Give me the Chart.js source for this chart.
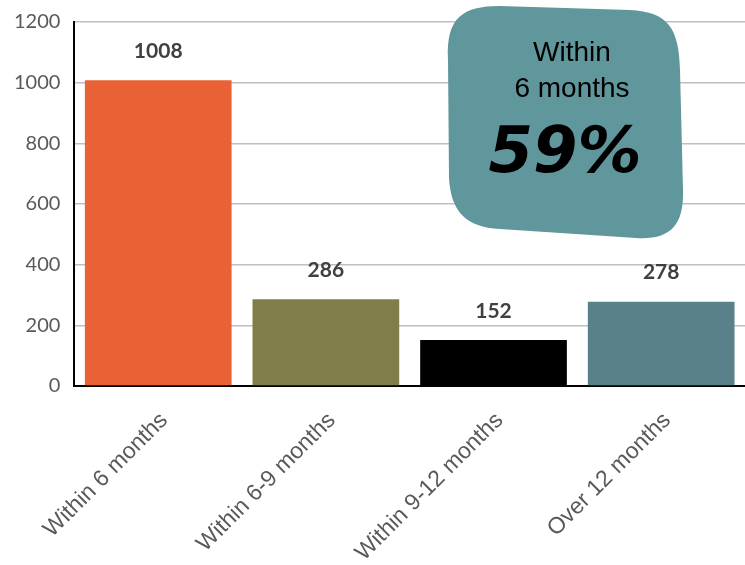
<!DOCTYPE html>
<html>
<head>
<meta charset="utf-8">
<script src="https://cdn.jsdelivr.net/npm/chart.js@4.4.0/dist/chart.umd.min.js"></script>
<style>
  html, body { margin: 0; padding: 0; background: #fff; }
  #wrap { width: 745px; height: 565px; }
</style>
</head>
<body>
<div id="wrap"><canvas id="mycanvas"></canvas></div>
<script>
var categories = ['Within 6 months', 'Within 6-9 months', 'Within 9-12 months', 'Over 12 months'];
var counts = [1008, 286, 152, 278];
var barColors = ['#E86236', '#7F7E4B', '#000000', '#5A8089'];
var yTicks = [0, 200, 400, 600, 800, 1000, 1200];

// value labels above each bar
var valueLabels = {
  id: 'valueLabels',
  afterDatasetsDraw: function(chart) {
    var ctx = chart.ctx;
    var meta = chart.getDatasetMeta(0);
    ctx.save();
    ctx.font = 'bold 21px Lato, "Open Sans", sans-serif';
    ctx.fillStyle = '#404040';
    ctx.textAlign = 'center';
    ctx.textBaseline = 'middle';
    meta.data.forEach(function(bar, i) {
      ctx.fillText(counts[i], bar.x, bar.y - 29);
    });
    ctx.restore();
  }
};

// teal callout blob
var callout = {
  id: 'callout',
  afterDraw: function(chart) {
    var ctx = chart.ctx;
    ctx.save();
    ctx.beginPath();
    ctx.moveTo(448, 60);
    ctx.bezierCurveTo(446, 18, 462, 6, 500, 6);
    ctx.lineTo(630, 10);
    ctx.bezierCurveTo(668, 12, 679, 28, 680, 70);
    ctx.lineTo(683, 190);
    ctx.bezierCurveTo(684, 226, 670, 240, 636, 238);
    ctx.lineTo(500, 229);
    ctx.bezierCurveTo(466, 227, 451, 212, 449, 178);
    ctx.closePath();
    ctx.fillStyle = '#60979D';
    ctx.fill();
    ctx.fillStyle = '#000';
    ctx.textAlign = 'center';
    ctx.textBaseline = 'middle';
    ctx.font = '28px "Liberation Sans", Arial, sans-serif';
    ctx.fillText('Within', 572, 53);
    ctx.fillText('6 months', 572, 89);
    ctx.font = 'italic bold 64px "DejaVu Sans", sans-serif';
    ctx.fillText('59%', 565, 155);
    ctx.restore();
  }
};

new Chart(document.getElementById('mycanvas'), {
  type: 'bar',
  data: {
    labels: categories,
    datasets: [{
      data: counts,
      backgroundColor: barColors,
      barPercentage: 0.875,
      categoryPercentage: 1.0
    }]
  },
  options: {
    responsive: true,
    maintainAspectRatio: false,
    animation: false,
    layout: { padding: { top: 1, right: 0, left: 0, bottom: 0 } },
    plugins: { legend: { display: false }, tooltip: { enabled: false } },
    scales: {
      x: {
        grid: { display: false, drawTicks: false },
        border: { color: '#000', width: 2 },
        afterFit: function(axis) { axis.height = 179; },
        ticks: {
          maxRotation: 45, minRotation: 45,
          labelOffset: 6,
          padding: 21,
          color: '#595959',
          font: { family: '"Liberation Sans", Arial, sans-serif', size: 23 }
        }
      },
      y: {
        min: 0, max: 1200,
        afterBuildTicks: function(axis) {
          axis.ticks = yTicks.map(function(v) { return { value: v }; });
        },
        grid: { color: '#BFBFBF', lineWidth: 1.5, drawTicks: false },
        border: { color: '#000', width: 2 },
        ticks: {
          padding: 14,
          color: '#595959',
          font: { family: 'Lato, "Open Sans", sans-serif', size: 20, lineHeight: 0.8 },
          callback: function(v) { return String(v); }
        }
      }
    }
  },
  plugins: [valueLabels, callout]
});
</script>
</body>
</html>
